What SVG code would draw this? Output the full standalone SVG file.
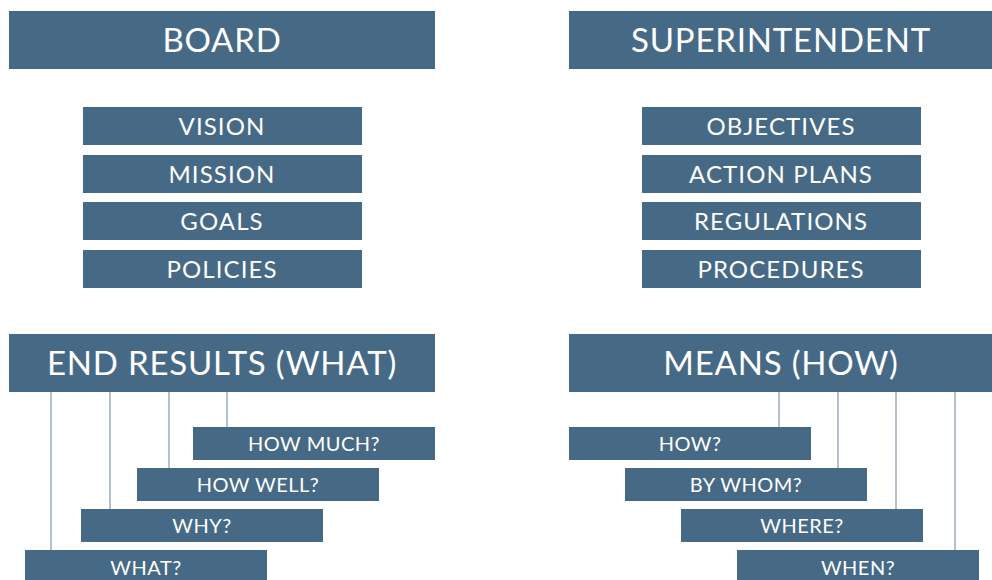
<svg xmlns="http://www.w3.org/2000/svg" width="992" height="580" viewBox="0 0 992 580">
<style>
.b{fill:#466a86}
.t{fill:#fff;font-family:Lato,"Open Sans",sans-serif;text-anchor:middle}
.h{font-size:33px;letter-spacing:0.8px}
.s{font-size:24px;letter-spacing:1.1px}
.q{font-size:20px;letter-spacing:0.5px}
.c{stroke:#8aa0b5;stroke-width:1.3;fill:none}
</style>
<rect width="992" height="580" fill="#fff"/>
<g id="connectors">
<line class="c" x1="51" y1="392" x2="51" y2="550"/>
<line class="c" x1="110" y1="392" x2="110" y2="509"/>
<line class="c" x1="169" y1="392" x2="169" y2="468"/>
<line class="c" x1="227" y1="392" x2="227" y2="427"/>
<line class="c" x1="779" y1="392" x2="779" y2="427"/>
<line class="c" x1="838" y1="392" x2="838" y2="468"/>
<line class="c" x1="896" y1="392" x2="896" y2="509"/>
<line class="c" x1="955" y1="392" x2="955" y2="550"/>
</g>
<g id="board"><rect class="b" x="9" y="11" width="426" height="58"/><text class="t h" x="222" y="52">BOARD</text></g>
<g id="superintendent"><rect class="b" x="569" y="11" width="423" height="58"/><text class="t h" x="781" y="52">SUPERINTENDENT</text></g>
<g id="vision"><rect class="b" x="83" y="107" width="279" height="38"/><text class="t s" x="222" y="135">VISION</text></g>
<g id="mission"><rect class="b" x="83" y="155" width="279" height="38"/><text class="t s" x="222" y="183">MISSION</text></g>
<g id="goals"><rect class="b" x="83" y="202" width="279" height="38"/><text class="t s" x="222" y="230">GOALS</text></g>
<g id="policies"><rect class="b" x="83" y="250" width="279" height="38"/><text class="t s" x="222" y="278">POLICIES</text></g>
<g id="objectives"><rect class="b" x="642" y="107" width="279" height="38"/><text class="t s" x="781" y="135">OBJECTIVES</text></g>
<g id="action-plans"><rect class="b" x="642" y="155" width="279" height="38"/><text class="t s" x="781" y="183">ACTION PLANS</text></g>
<g id="regulations"><rect class="b" x="642" y="202" width="279" height="38"/><text class="t s" x="781" y="230">REGULATIONS</text></g>
<g id="procedures"><rect class="b" x="642" y="250" width="279" height="38"/><text class="t s" x="781" y="278">PROCEDURES</text></g>
<g id="end-results"><rect class="b" x="9" y="334" width="426" height="58"/><text class="t h" x="222" y="375">END RESULTS (WHAT)</text></g>
<g id="means"><rect class="b" x="569" y="334" width="423" height="58"/><text class="t h" x="781" y="375">MEANS (HOW)</text></g>
<g id="how-much"><rect class="b" x="193" y="427" width="242" height="33"/><text class="t q" x="314" y="451">HOW MUCH?</text></g>
<g id="how-well"><rect class="b" x="137" y="468" width="242" height="33"/><text class="t q" x="258" y="492">HOW WELL?</text></g>
<g id="why"><rect class="b" x="81" y="509" width="242" height="33"/><text class="t q" x="202" y="533">WHY?</text></g>
<g id="what"><rect class="b" x="25" y="550" width="242" height="33"/><text class="t q" x="146" y="575">WHAT?</text></g>
<g id="how"><rect class="b" x="569" y="427" width="242" height="33"/><text class="t q" x="690" y="451">HOW?</text></g>
<g id="by-whom"><rect class="b" x="625" y="468" width="242" height="33"/><text class="t q" x="746" y="492">BY WHOM?</text></g>
<g id="where"><rect class="b" x="681" y="509" width="242" height="33"/><text class="t q" x="802" y="533">WHERE?</text></g>
<g id="when"><rect class="b" x="737" y="550" width="242" height="33"/><text class="t q" x="858" y="575">WHEN?</text></g>
</svg>
